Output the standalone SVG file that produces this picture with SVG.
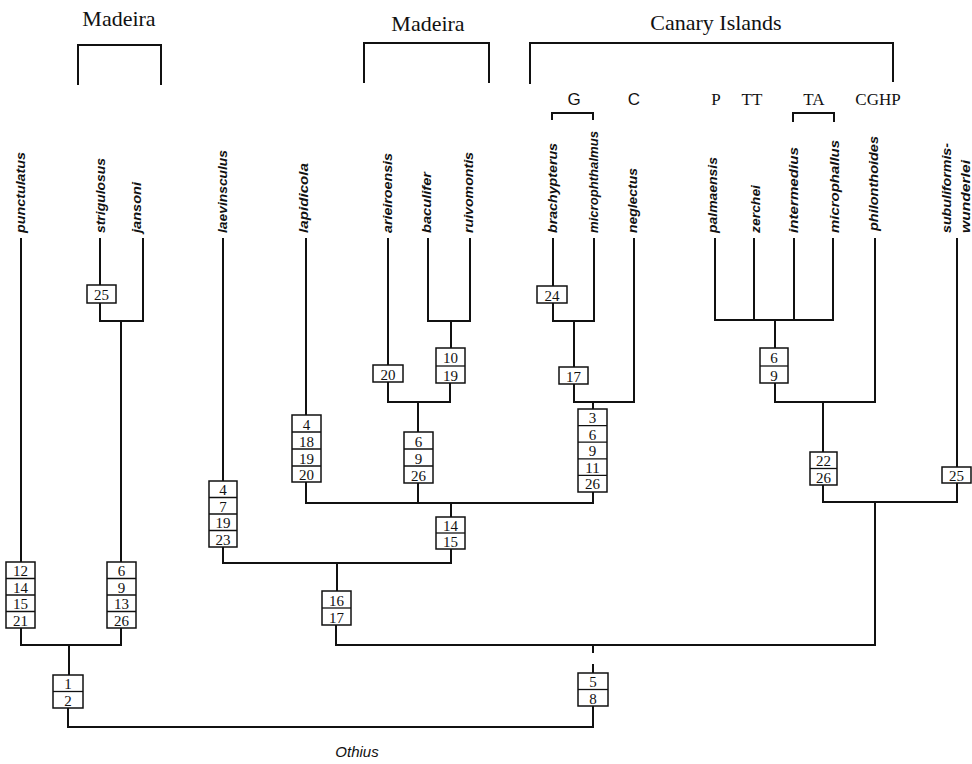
<svg xmlns="http://www.w3.org/2000/svg" width="972" height="764" viewBox="0 0 972 764">
<style>
.bg{fill:#fff}
.ln{fill:none;stroke:#111;stroke-width:2;stroke-linecap:square}
.br{fill:none;stroke:#111;stroke-width:2}
.bx{fill:#fff;stroke:#111;stroke-width:1.5}
.dv{stroke:#111;stroke-width:1.3}
.num{font-family:"Liberation Serif",serif;font-size:15px;fill:#111;text-anchor:middle}
.geo{font-family:"Liberation Serif",serif;font-size:22px;fill:#111;text-anchor:middle}
.isl{font-family:"Liberation Serif",serif;font-size:17px;fill:#111;text-anchor:middle}
.isls{font-family:"Liberation Sans",sans-serif;font-size:17px;fill:#111;text-anchor:middle}
.tx{font-family:"Liberation Sans",sans-serif;font-style:italic;font-weight:bold;font-size:13px;fill:#111}
</style>
<rect class="bg" x="0" y="0" width="972" height="764"/>

<g id="regions">
<text class="geo" x="119" y="26">Madeira</text>
<path class="br" d="M78 85V45H161V85"/>
<text class="geo" x="428" y="31">Madeira</text>
<path class="br" d="M364 83V43H489V83"/>
<text class="geo" x="716" y="30">Canary Islands</text>
<path class="br" d="M530 84V43H893V82"/>
<text class="isls" x="574" y="105">G</text>
<path class="br" d="M552 120V113H593V120"/>
<text class="isls" x="634" y="105">C</text>
<text class="isl" x="716" y="105">P</text>
<text class="isl" x="752" y="105">TT</text>
<text class="isl" x="814" y="105">TA</text>
<path class="br" d="M793 122V113H834V122"/>
<text class="isl" x="878" y="105">CGHP</text>
</g>

<g id="taxa">
<g id="t-punctulatus"><text class="tx" transform="translate(25,233) rotate(-90)" textLength="81" lengthAdjust="spacingAndGlyphs">punctulatus</text></g>
<g id="t-strigulosus"><text class="tx" transform="translate(105,233) rotate(-90)" textLength="75" lengthAdjust="spacingAndGlyphs">strigulosus</text></g>
<g id="t-jansoni"><text class="tx" transform="translate(141,233) rotate(-90)" textLength="51" lengthAdjust="spacingAndGlyphs">jansoni</text></g>
<g id="t-laevinsculus"><text class="tx" transform="translate(227,233) rotate(-90)" textLength="83" lengthAdjust="spacingAndGlyphs">laevinsculus</text></g>
<g id="t-lapidicola"><text class="tx" transform="translate(308,233) rotate(-90)" textLength="70" lengthAdjust="spacingAndGlyphs">lapidicola</text></g>
<g id="t-arieiroensis"><text class="tx" transform="translate(392,233) rotate(-90)" textLength="80" lengthAdjust="spacingAndGlyphs">arieiroensis</text></g>
<g id="t-baculifer"><text class="tx" transform="translate(431,233) rotate(-90)" textLength="61" lengthAdjust="spacingAndGlyphs">baculifer</text></g>
<g id="t-ruivomontis"><text class="tx" transform="translate(473,233) rotate(-90)" textLength="81" lengthAdjust="spacingAndGlyphs">ruivomontis</text></g>
<g id="t-brachypterus"><text class="tx" transform="translate(557,233) rotate(-90)" textLength="90" lengthAdjust="spacingAndGlyphs">brachypterus</text></g>
<g id="t-microphthalmus"><text class="tx" transform="translate(598,233) rotate(-90)" textLength="102" lengthAdjust="spacingAndGlyphs">microphthalmus</text></g>
<g id="t-neglectus"><text class="tx" transform="translate(637,233) rotate(-90)" textLength="65" lengthAdjust="spacingAndGlyphs">neglectus</text></g>
<g id="t-palmaensis"><text class="tx" transform="translate(717,233) rotate(-90)" textLength="76" lengthAdjust="spacingAndGlyphs">palmaensis</text></g>
<g id="t-zerchei"><text class="tx" transform="translate(760,233) rotate(-90)" textLength="48" lengthAdjust="spacingAndGlyphs">zerchei</text></g>
<g id="t-intermedius"><text class="tx" transform="translate(798,233) rotate(-90)" textLength="86" lengthAdjust="spacingAndGlyphs">intermedius</text></g>
<g id="t-microphallus"><text class="tx" transform="translate(839,233) rotate(-90)" textLength="93" lengthAdjust="spacingAndGlyphs">microphallus</text></g>
<g id="t-philonthoides"><text class="tx" transform="translate(878,231) rotate(-90)" textLength="95" lengthAdjust="spacingAndGlyphs">philonthoides</text></g>
<g id="t-subuliformis"><text class="tx" transform="translate(951,233) rotate(-90)" textLength="90" lengthAdjust="spacingAndGlyphs">subuliformis-</text><text class="tx" transform="translate(970,233) rotate(-90)" textLength="73" lengthAdjust="spacingAndGlyphs">wunderlei</text></g>
<g id="t-othius"><text class="tx" x="357" y="757" style="font-size:15px;font-weight:normal" text-anchor="middle">Othius</text></g>
</g>

<g id="connectors">
<path class="ln" d="M21 239V562"/>
<path class="ln" d="M100 239V285M100 303V321H143V239M121 321V562"/>
<path class="ln" d="M223 239V481"/>
<path class="ln" d="M306 239V415"/>
<path class="ln" d="M388 239V365"/>
<path class="ln" d="M428 239V321H470V239M451 321V348"/>
<path class="ln" d="M388 382V402H450V383M418 402V432"/>
<path class="ln" d="M418 483V503M306 482V503H593V492"/>
<path class="ln" d="M553 239V286M553 303V321H594V239M574 321V367"/>
<path class="ln" d="M574 384V402H634V239M593 402V409"/>
<path class="ln" d="M451 503V517M451 549V563H223V547M337 563V591"/>
<path class="ln" d="M715 239V320H833V239M754 239V320M794 239V320M775 320V348"/>
<path class="ln" d="M775 383V402H875V239M823 402V452"/>
<path class="ln" d="M823 485V502H957V483M957 239V467M875 502V645H336V625"/>
<path class="ln" d="M21 628V645H121V628M69 645V675"/>
<path class="ln" d="M68 708V727H593V706M593 645V652M593 665V673"/>
</g>

<g id="n-25a"><rect class="bx" x="87" y="285" width="29" height="18"/><text class="num" x="101.5" y="300">25</text></g>
<g id="n-12-14-15-21"><rect class="bx" x="6" y="562" width="29" height="66"/><path class="dv" d="M6 578.5H35M6 595H35M6 611.5H35"/><text class="num" x="20.5" y="576">12</text><text class="num" x="20.5" y="592.5">14</text><text class="num" x="20.5" y="609">15</text><text class="num" x="20.5" y="625.5">21</text></g>
<g id="n-6-9-13-26"><rect class="bx" x="107" y="562" width="29" height="66"/><path class="dv" d="M107 578.5H136M107 595H136M107 611.5H136"/><text class="num" x="121.5" y="576">6</text><text class="num" x="121.5" y="592.5">9</text><text class="num" x="121.5" y="609">13</text><text class="num" x="121.5" y="625.5">26</text></g>
<g id="n-4-7-19-23"><rect class="bx" x="209" y="481" width="28" height="66"/><path class="dv" d="M209 497.5H237M209 514H237M209 530.5H237"/><text class="num" x="223" y="495">4</text><text class="num" x="223" y="511.5">7</text><text class="num" x="223" y="528">19</text><text class="num" x="223" y="544.5">23</text></g>
<g id="n-4-18-19-20"><rect class="bx" x="292" y="415" width="29" height="67"/><path class="dv" d="M292 432H321M292 449H321M292 466H321"/><text class="num" x="306.5" y="429.5">4</text><text class="num" x="306.5" y="446.5">18</text><text class="num" x="306.5" y="463.5">19</text><text class="num" x="306.5" y="480">20</text></g>
<g id="n-20"><rect class="bx" x="373" y="365" width="30" height="17"/><text class="num" x="388" y="379.5">20</text></g>
<g id="n-10-19"><rect class="bx" x="436" y="348" width="29" height="35"/><path class="dv" d="M436 366H465"/><text class="num" x="450.5" y="363">10</text><text class="num" x="450.5" y="380.5">19</text></g>
<g id="n-6-9-26"><rect class="bx" x="404" y="432" width="29" height="51"/><path class="dv" d="M404 449H433M404 466H433"/><text class="num" x="418.5" y="446.5">6</text><text class="num" x="418.5" y="463.5">9</text><text class="num" x="418.5" y="480.5">26</text></g>
<g id="n-24"><rect class="bx" x="537" y="286" width="30" height="17"/><text class="num" x="552" y="300.5">24</text></g>
<g id="n-17"><rect class="bx" x="559" y="367" width="29" height="17"/><text class="num" x="573.5" y="381.5">17</text></g>
<g id="n-3-6-9-11-26"><rect class="bx" x="578" y="409" width="29" height="83"/><path class="dv" d="M578 425.6H607M578 442.2H607M578 458.8H607M578 475.4H607"/><text class="num" x="592.5" y="423">3</text><text class="num" x="592.5" y="439.6">6</text><text class="num" x="592.5" y="456.2">9</text><text class="num" x="592.5" y="472.8">11</text><text class="num" x="592.5" y="489.4">26</text></g>
<g id="n-6-9r"><rect class="bx" x="760" y="348" width="28" height="35"/><path class="dv" d="M760 366H788"/><text class="num" x="774" y="363">6</text><text class="num" x="774" y="380.5">9</text></g>
<g id="n-22-26"><rect class="bx" x="810" y="452" width="27" height="33"/><path class="dv" d="M810 468.5H837"/><text class="num" x="823.5" y="466">22</text><text class="num" x="823.5" y="482.5">26</text></g>
<g id="n-25b"><rect class="bx" x="942" y="467" width="29" height="16"/><text class="num" x="956.5" y="480.5">25</text></g>
<g id="n-14-15"><rect class="bx" x="436" y="517" width="29" height="32"/><path class="dv" d="M436 533H465"/><text class="num" x="450.5" y="530.5">14</text><text class="num" x="450.5" y="546.5">15</text></g>
<g id="n-16-17"><rect class="bx" x="322" y="591" width="29" height="34"/><path class="dv" d="M322 608H351"/><text class="num" x="336.5" y="605.5">16</text><text class="num" x="336.5" y="622.5">17</text></g>
<g id="n-1-2"><rect class="bx" x="53" y="675" width="30" height="33"/><path class="dv" d="M53 691.5H83"/><text class="num" x="68" y="689">1</text><text class="num" x="68" y="705.5">2</text></g>
<g id="n-5-8"><rect class="bx" x="578" y="673" width="30" height="33"/><path class="dv" d="M578 689.5H608"/><text class="num" x="593" y="687">5</text><text class="num" x="593" y="703.5">8</text></g>
</svg>
